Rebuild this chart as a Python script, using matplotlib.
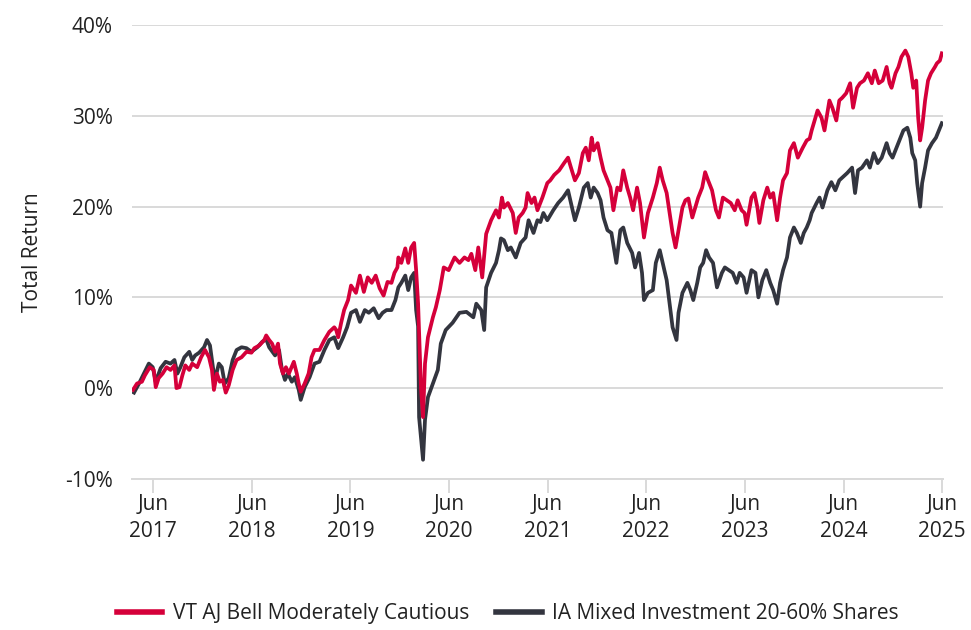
import matplotlib
matplotlib.use("Agg")
import matplotlib.pyplot as plt
from matplotlib.ticker import FuncFormatter

# decimal years and total return (%)
red_dates = [
    2017.29, 2017.33, 2017.38, 2017.41, 2017.46, 2017.50, 2017.52, 2017.55, 2017.59, 2017.63,
    2017.67, 2017.71, 2017.73, 2017.76, 2017.79, 2017.82, 2017.86, 2017.89, 2017.94, 2017.98,
    2018.02, 2018.06, 2018.09, 2018.11, 2018.14, 2018.17, 2018.20, 2018.23, 2018.26, 2018.30,
    2018.34, 2018.39, 2018.44, 2018.49, 2018.52, 2018.57, 2018.62, 2018.64, 2018.67, 2018.70,
    2018.73, 2018.76, 2018.78, 2018.81, 2018.84, 2018.87, 2018.92, 2018.95, 2018.97, 2018.99,
    2019.03, 2019.07, 2019.10, 2019.13, 2019.18, 2019.23, 2019.28, 2019.33, 2019.35, 2019.37,
    2019.40, 2019.43, 2019.47, 2019.50, 2019.55, 2019.59, 2019.63, 2019.67, 2019.71, 2019.75,
    2019.79, 2019.83, 2019.87, 2019.91, 2019.94, 2019.97, 2019.98, 2020.01, 2020.05, 2020.08,
    2020.11, 2020.14, 2020.16, 2020.18, 2020.21, 2020.23, 2020.25, 2020.28, 2020.33, 2020.36,
    2020.40, 2020.44, 2020.49, 2020.55, 2020.60, 2020.65, 2020.69, 2020.72, 2020.76, 2020.79,
    2020.83, 2020.87, 2020.92, 2020.97, 2021.00, 2021.03, 2021.05, 2021.09, 2021.14, 2021.17,
    2021.20, 2021.24, 2021.27, 2021.29, 2021.33, 2021.36, 2021.39, 2021.44, 2021.49, 2021.52,
    2021.56, 2021.61, 2021.66, 2021.70, 2021.73, 2021.77, 2021.81, 2021.85, 2021.88, 2021.91,
    2021.94, 2021.96, 2022.00, 2022.03, 2022.06, 2022.10, 2022.13, 2022.16, 2022.20, 2022.23,
    2022.26, 2022.30, 2022.33, 2022.36, 2022.40, 2022.43, 2022.47, 2022.51, 2022.56, 2022.60,
    2022.63, 2022.66, 2022.70, 2022.73, 2022.76, 2022.79, 2022.82, 2022.86, 2022.89, 2022.92,
    2022.96, 2022.99, 2023.02, 2023.06, 2023.09, 2023.12, 2023.16, 2023.20, 2023.23, 2023.27,
    2023.31, 2023.35, 2023.39, 2023.42, 2023.46, 2023.49, 2023.51, 2023.56, 2023.59, 2023.62,
    2023.64, 2023.68, 2023.72, 2023.75, 2023.78, 2023.82, 2023.85, 2023.88, 2023.92, 2023.95,
    2023.99, 2024.03, 2024.08, 2024.12, 2024.15, 2024.17, 2024.20, 2024.23, 2024.27, 2024.30,
    2024.35, 2024.38, 2024.42, 2024.45, 2024.48, 2024.52, 2024.56, 2024.59, 2024.63, 2024.66,
    2024.70, 2024.74, 2024.78, 2024.81, 2024.85, 2024.89, 2024.93, 2024.96, 2024.98, 2025.02,
    2025.05, 2025.08, 2025.12, 2025.15, 2025.18, 2025.20, 2025.23, 2025.25, 2025.27, 2025.29,
    2025.32, 2025.35, 2025.38, 2025.42, 2025.44, 2025.47, 2025.49,
]
red_values = [
    -0.2, 0.5, 0.7, 1.4, 2.3, 2.0, 0.1, 1.1, 1.6, 2.3,
    2.0, 2.5, 0.0, 0.1, 1.4, 2.5, 2.0, 2.7, 2.3, 3.4,
    4.2, 3.4, 2.0, -0.2, 1.6, 0.7, 0.9, -0.5, 0.3, 2.0,
    3.1, 3.4, 4.0, 3.9, 4.4, 4.7, 5.3, 5.8, 5.3, 4.9,
    4.0, 4.9, 2.7, 1.6, 2.3, 1.6, 2.9, 1.6, 0.5, -0.4,
    0.5, 1.6, 3.4, 4.2, 4.2, 5.3, 6.2, 6.7, 6.4, 5.6,
    7.2, 8.6, 9.7, 11.3, 10.5, 12.4, 10.6, 12.2, 11.6, 12.4,
    11.0, 10.2, 11.7, 11.6, 12.7, 13.3, 14.4, 13.8, 15.4, 13.8,
    15.5, 16.0, 13.0, 9.3, -0.2, -3.2, 2.7, 5.6, 7.8, 8.9,
    10.8, 13.3, 13.0, 14.4, 13.8, 14.4, 14.1, 14.8, 13.0, 15.5,
    12.2, 17.0, 18.5, 19.6, 18.8, 21.0, 19.9, 20.4, 19.3, 17.1,
    18.8, 19.3, 19.9, 21.5, 20.4, 21.0, 19.6, 21.0, 22.6, 22.9,
    23.5, 24.0, 24.8, 25.4, 24.3, 22.9, 23.7, 25.9, 26.5, 25.1,
    27.6, 26.2, 27.0, 25.4, 24.0, 22.9, 22.1, 19.6, 22.1, 21.8,
    24.0, 22.1, 21.0, 19.6, 22.1, 20.4, 16.6, 19.3, 21.0, 22.6,
    24.3, 22.9, 21.5, 19.3, 17.1, 15.5, 17.4, 19.9, 20.7, 20.9,
    18.8, 19.9, 21.0, 22.1, 23.8, 22.9, 21.8, 19.6, 18.8, 21.0,
    20.7, 20.4, 19.6, 20.7, 19.6, 19.3, 18.0, 21.0, 21.5, 19.9,
    18.2, 20.7, 22.1, 21.0, 21.5, 18.5, 21.0, 22.9, 23.7, 26.2,
    27.0, 25.4, 26.5, 27.3, 27.5, 28.4, 29.5, 30.6, 29.8, 28.4,
    31.7, 30.9, 29.5, 31.7, 32.0, 32.5, 33.6, 30.9, 33.1, 33.6,
    33.9, 34.7, 33.6, 35.0, 33.6, 33.9, 35.4, 33.6, 33.1, 34.7,
    35.4, 36.5, 37.2, 36.5, 34.7, 33.1, 33.9, 29.8, 27.3, 28.7,
    31.7, 33.9, 34.7, 35.4, 35.8, 36.1, 36.9,
]

dark_dates = [
    2017.30, 2017.35, 2017.40, 2017.45, 2017.49, 2017.52, 2017.57, 2017.62, 2017.67, 2017.71,
    2017.74, 2017.77, 2017.81, 2017.86, 2017.89, 2017.92, 2017.96, 2018.01, 2018.04, 2018.07,
    2018.10, 2018.12, 2018.16, 2018.19, 2018.22, 2018.26, 2018.30, 2018.34, 2018.39, 2018.44,
    2018.49, 2018.55, 2018.60, 2018.64, 2018.67, 2018.73, 2018.77, 2018.80, 2018.83, 2018.86,
    2018.90, 2018.93, 2018.97, 2018.99, 2019.03, 2019.08, 2019.13, 2019.18, 2019.23, 2019.28,
    2019.33, 2019.37, 2019.42, 2019.46, 2019.50, 2019.55, 2019.59, 2019.64, 2019.68, 2019.73,
    2019.78, 2019.82, 2019.86, 2019.91, 2019.95, 2019.98, 2020.01, 2020.05, 2020.08, 2020.11,
    2020.14, 2020.16, 2020.18, 2020.19, 2020.23, 2020.25, 2020.28, 2020.33, 2020.38, 2020.41,
    2020.46, 2020.53, 2020.60, 2020.67, 2020.74, 2020.77, 2020.82, 2020.85, 2020.87, 2020.92,
    2020.97, 2021.00, 2021.02, 2021.05, 2021.09, 2021.12, 2021.17, 2021.22, 2021.27, 2021.30,
    2021.35, 2021.39, 2021.42, 2021.45, 2021.49, 2021.55, 2021.60, 2021.65, 2021.70, 2021.73,
    2021.77, 2021.81, 2021.86, 2021.90, 2021.93, 2021.96, 2022.00, 2022.03, 2022.06, 2022.10,
    2022.14, 2022.19, 2022.23, 2022.26, 2022.30, 2022.35, 2022.38, 2022.42, 2022.45, 2022.47,
    2022.51, 2022.56, 2022.59, 2022.63, 2022.66, 2022.70, 2022.73, 2022.76, 2022.80, 2022.82,
    2022.86, 2022.91, 2022.94, 2022.97, 2023.01, 2023.04, 2023.07, 2023.10, 2023.13, 2023.17,
    2023.21, 2023.26, 2023.29, 2023.33, 2023.37, 2023.41, 2023.44, 2023.48, 2023.51, 2023.56,
    2023.60, 2023.63, 2023.67, 2023.71, 2023.75, 2023.78, 2023.82, 2023.85, 2023.88, 2023.92,
    2023.95, 2023.99, 2024.02, 2024.06, 2024.09, 2024.12, 2024.15, 2024.17, 2024.22, 2024.25,
    2024.28, 2024.33, 2024.37, 2024.41, 2024.45, 2024.48, 2024.53, 2024.58, 2024.61, 2024.64,
    2024.68, 2024.73, 2024.76, 2024.80, 2024.84, 2024.88, 2024.93, 2024.96, 2024.99, 2025.03,
    2025.06, 2025.10, 2025.14, 2025.17, 2025.19, 2025.22, 2025.24, 2025.27, 2025.29, 2025.32,
    2025.35, 2025.39, 2025.43, 2025.46, 2025.49,
]
dark_values = [
    -0.5, 0.5, 1.6, 2.7, 2.3, 0.7, 2.2, 2.9, 2.7, 3.1,
    1.6, 2.3, 3.4, 4.0, 3.1, 3.6, 3.9, 4.5, 5.3, 4.7,
    2.3, 0.9, 2.7, 2.3, 0.5, 1.1, 3.1, 4.2, 4.5, 4.4,
    4.0, 4.5, 5.1, 5.4, 4.5, 3.6, 4.2, 2.0, 0.9, 1.6,
    0.7, 1.2, -0.2, -1.3, 0.1, 1.2, 2.7, 2.9, 4.2, 5.3,
    5.6, 4.4, 5.6, 6.7, 8.3, 8.6, 7.3, 8.6, 8.3, 8.8,
    7.7, 8.3, 8.6, 8.6, 9.7, 11.1, 11.6, 12.4, 10.8, 12.2,
    12.7, 8.6, 6.8, -3.2, -7.9, -3.5, -1.0, 0.5, 2.0, 4.9,
    6.4, 7.2, 8.3, 8.4, 7.8, 9.3, 8.6, 6.4, 11.1, 12.7,
    13.8, 15.2, 16.5, 16.3, 15.2, 15.5, 14.4, 16.0, 16.6, 18.5,
    17.1, 18.5, 18.3, 19.3, 18.5, 19.6, 20.4, 21.0, 21.8, 20.4,
    18.5, 19.9, 22.1, 22.6, 21.0, 22.1, 21.5, 20.7, 18.8, 17.4,
    17.1, 13.8, 17.4, 17.7, 16.0, 14.9, 13.3, 14.9, 12.7, 9.7,
    10.5, 10.8, 13.8, 15.2, 13.8, 11.9, 9.3, 6.7, 5.3, 8.3,
    10.5, 11.6, 10.8, 9.7, 11.6, 13.3, 13.8, 15.2, 14.4, 13.8,
    11.1, 12.7, 13.3, 13.0, 12.7, 11.6, 12.7, 12.2, 10.5, 13.0,
    12.7, 10.0, 11.9, 13.0, 11.6, 10.8, 9.3, 11.6, 13.0, 14.4,
    16.6, 17.7, 17.1, 16.0, 17.1, 17.7, 18.5, 19.3, 20.4, 21.0,
    19.9, 21.8, 22.7, 21.8, 22.9, 23.2, 23.7, 24.3, 21.5, 24.0,
    24.3, 25.1, 24.3, 25.9, 24.8, 25.4, 27.0, 25.9, 25.4, 26.5,
    27.3, 28.4, 28.7, 27.6, 25.9, 25.1, 22.6, 20.0, 22.6, 24.3,
    26.2, 27.0, 27.6, 28.4, 29.2,
]

tick_years = [2017, 2018, 2019, 2020, 2021, 2022, 2023, 2024, 2025]
red_name = "VT AJ Bell Moderately Cautious"
dark_name = "IA Mixed Investment 20-60% Shares"

plt.rcParams['font.family'] = ['Open Sans', 'DejaVu Sans']
red = "#D5003A"
dark = "#33353F"
grid_c = "#D9D9D9"
text_c = "#222222"
fs = 15

fig = plt.figure(figsize=(9.71, 6.3), dpi=100)
ax = fig.add_axes([0.136, 0.240, 0.835, 0.720])

ax.plot(dark_dates, dark_values, color=dark, lw=2.7, label=dark_name, solid_joinstyle='round')
ax.plot(red_dates, red_values, color=red, lw=2.7, label=red_name, solid_joinstyle='round')

ax.set_ylim(-10, 40)
ax.set_xlim(2017.28, 2025.50)
ax.set_yticks(range(-10, 41, 10))
ax.yaxis.set_major_formatter(FuncFormatter(lambda v, p: f"{v:.0f}%"))
ax.set_xticks([y + 0.493 for y in tick_years])
ax.set_xticklabels([f"Jun\n{y}" for y in tick_years])

ax.grid(axis='y', color=grid_c, lw=1.4)
ax.set_axisbelow(True)
for s in ['top', 'right', 'left']:
    ax.spines[s].set_visible(False)
ax.spines['bottom'].set_color(grid_c)
ax.spines['bottom'].set_linewidth(1.4)
ax.tick_params(axis='y', length=0, pad=14, labelsize=fs, labelcolor=text_c)
ax.tick_params(axis='x', length=10, width=1.4, color=grid_c, pad=1, labelsize=fs,
               labelcolor=text_c)
for lbl in ax.get_xticklabels():
    lbl.set_linespacing(1.35)
ax.set_ylabel("Total Return", fontsize=fs, color=text_c, labelpad=16)

handles, labels = ax.get_legend_handles_labels()
fig.legend(handles[::-1], labels[::-1], loc='lower center', bbox_to_anchor=(0.523, -0.02),
           ncol=2, frameon=False, fontsize=fs, handlelength=2.2, columnspacing=1.3,
           handletextpad=0.5, labelcolor=text_c)
for line in fig.legends[0].get_lines():
    line.set_linewidth(4)

fig.savefig("out.png", dpi=100)
